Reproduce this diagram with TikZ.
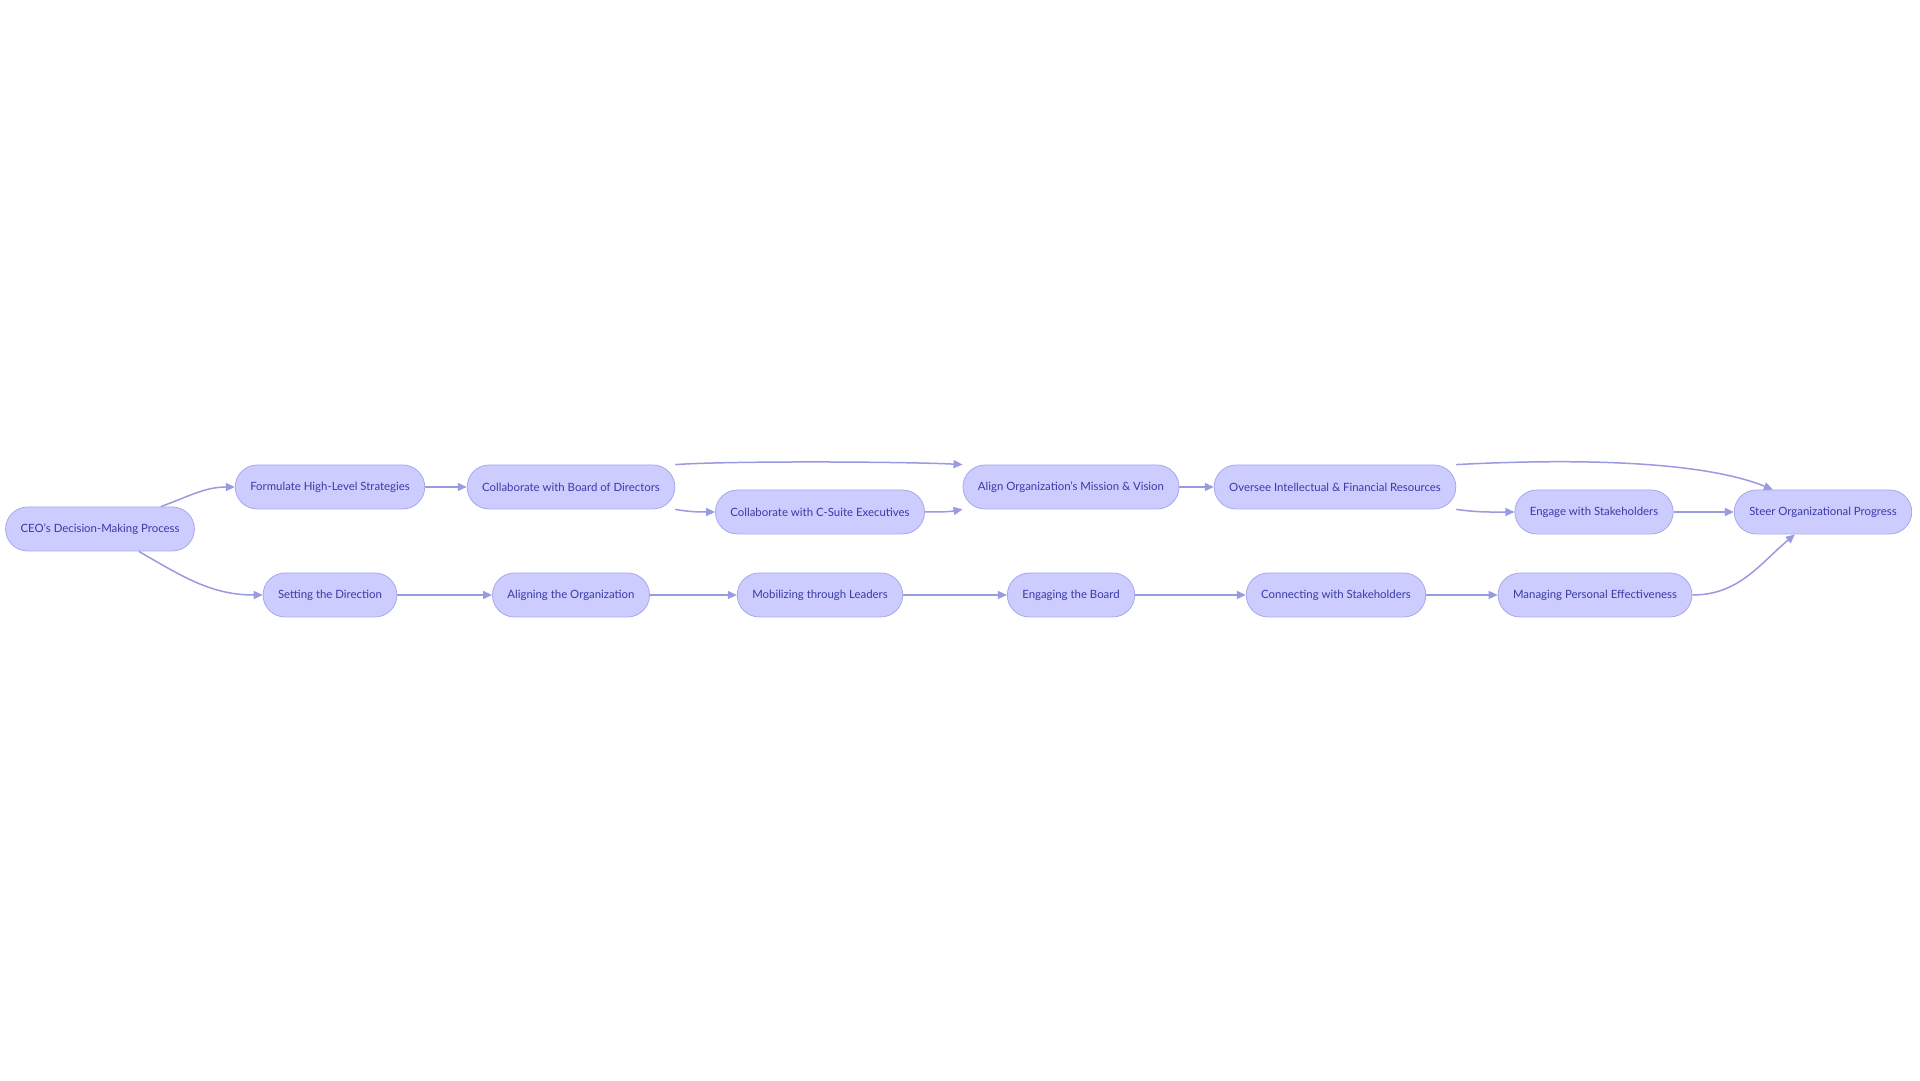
\documentclass[tikz,border=0pt]{standalone}
\usepackage{fontspec}
\setmainfont{Lato}
\usepackage{xcolor}
\usetikzlibrary{arrows.meta}
\definecolor{boxfill}{HTML}{CCCCFF}
\definecolor{boxline}{HTML}{A8A8EE}
\definecolor{boxtext}{HTML}{3A3AA6}
\definecolor{flowline}{HTML}{9A9AE2}
\begin{document}
\begin{tikzpicture}[x=1pt,y=1pt,
		stepbox/.style={draw=boxline,line width=0.8pt,fill=boxfill,text=boxtext,rounded corners=22pt,minimum height=44pt,inner xsep=15pt,font=\fontsize{11.4}{13}\selectfont},
		flow/.style={draw=flowline,line width=1.5pt,-{Triangle[length=9pt,width=8pt]}}]
			\useasboundingbox[fill=white] (0,0) rectangle (1920,1080);
			\node[stepbox] (ceo) at (100,551) {CEO's Decision-Making Process};
			\node[stepbox] (form) at (330,593) {Formulate High-Level Strategies};
			\node[stepbox] (cboard) at (571,593) {Collaborate with Board of Directors};
			\node[stepbox] (csuite) at (820,568) {Collaborate with C-Suite Executives};
			\node[stepbox] (align) at (1071,593) {Align Organization's Mission \& Vision};
			\node[stepbox] (oversee) at (1335,593) {Oversee Intellectual \& Financial Resources};
			\node[stepbox] (engage) at (1594,568) {Engage with Stakeholders};
			\node[stepbox] (steer) at (1823,568) {Steer Organizational Progress};
			\node[stepbox] (setdir) at (330,485) {Setting the Direction};
			\node[stepbox] (alorg) at (571,485) {Aligning the Organization};
			\node[stepbox] (mobil) at (820,485) {Mobilizing through Leaders};
			\node[stepbox] (engboard) at (1071,485) {Engaging the Board};
			\node[stepbox] (connect) at (1336,485) {Connecting with Stakeholders};
			\node[stepbox] (manage) at (1595,485) {Managing Personal Effectiveness};

			\draw[flow] ([xshift=-34pt]ceo.north east) to[out=20,in=180] (form.west);
			\draw[flow] ([xshift=-56pt]ceo.south east) to[out=-30,in=180] (setdir.west);
			\draw[flow] (form) -- (cboard);
			\draw[flow] (cboard.north east) to[out=4,in=177,looseness=0.5] (align.north west);
			\draw[flow] (cboard.south east) to[out=-10,in=180] (csuite.west);
			\draw[flow] (csuite.east) to[out=0,in=190] (align.south west);
			\draw[flow] (align) -- (oversee);
			\draw[flow] (oversee.north east) to[out=3,in=158,looseness=0.7] ([xshift=39pt]steer.north west);
			\draw[flow] (oversee.south east) to[out=-8,in=180] (engage.west);
			\draw[flow] (engage) -- (steer);
			\draw[flow] (setdir) -- (alorg);
			\draw[flow] (alorg) -- (mobil);
			\draw[flow] (mobil) -- (engboard);
			\draw[flow] (engboard) -- (connect);
			\draw[flow] (connect) -- (manage);
			\draw[flow] (manage.east) to[out=0,in=-140] ([xshift=61pt]steer.south west);
		\end{tikzpicture}
\end{document}
